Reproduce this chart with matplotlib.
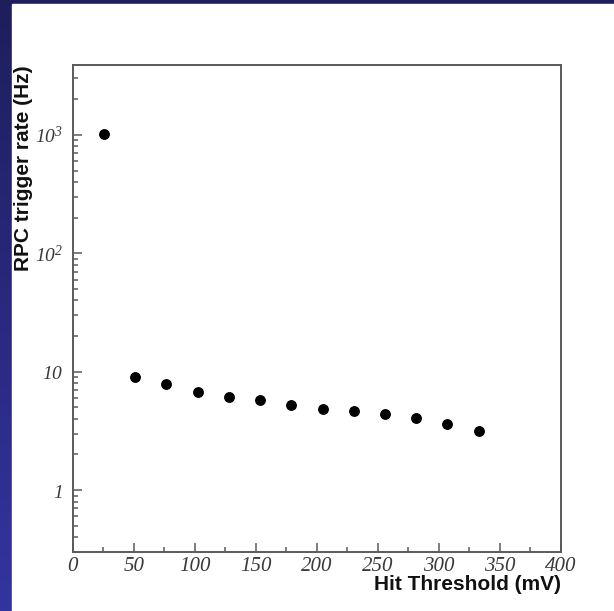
import numpy as np
import matplotlib
matplotlib.use("Agg")
import matplotlib.pyplot as plt
from matplotlib.ticker import FixedLocator, FixedFormatter, LogLocator, MultipleLocator, NullFormatter

# Data
threshold_mv = [25.6, 51.2, 76.8, 102.4, 128.0, 153.6, 179.2, 204.8, 230.4, 256.0, 281.6, 307.2, 332.8]
trigger_rate_hz = [1010, 9.0, 7.8, 6.8, 6.1, 5.75, 5.2, 4.85, 4.7, 4.4, 4.05, 3.65, 3.15]

y_ticks = [1, 10, 100, 1000]
y_tick_labels = [r'$\mathit{1}$', r'$\mathit{10}$', r'$\mathit{10^{2}}$', r'$\mathit{10^{3}}$']

plt.rcParams['mathtext.fontset'] = 'custom'
plt.rcParams['mathtext.it'] = 'Liberation Serif:italic'
plt.rcParams['mathtext.rm'] = 'Liberation Serif:italic'

W, H = 614, 611
fig = plt.figure(figsize=(W / 100, H / 100), dpi=100)

# dark blue slide background with a white panel
bg = fig.add_axes([0, 0, 1, 1], zorder=-10)
grad = np.linspace(0, 1, 256).reshape(-1, 1)
bg.imshow(grad, aspect='auto', extent=[0, 1, 0, 1], origin='upper',
          cmap=matplotlib.colors.LinearSegmentedColormap.from_list('slide', ['#1e1e5c', '#3434a0']))
bg.add_patch(plt.Rectangle((12 / W, 0), 1, 1 - 4 / H, color='white', transform=bg.transAxes))
bg.set_xlim(0, 1)
bg.set_ylim(0, 1)
bg.axis('off')

ax = fig.add_axes([72.7 / W, 1 - 552 / H, (560.7 - 72.7) / W, (552 - 65) / H])
ax.plot(threshold_mv, trigger_rate_hz, 'o', color='black', markersize=6.8)

ax.set_yscale('log')
ax.set_xlim(0, 400)
ax.set_ylim(0.3, 3900)

ax.xaxis.set_major_locator(MultipleLocator(50))
ax.xaxis.set_minor_locator(MultipleLocator(25))
ax.yaxis.set_major_locator(FixedLocator(y_ticks))
ax.yaxis.set_major_formatter(FixedFormatter(y_tick_labels))
ax.yaxis.set_minor_locator(LogLocator(base=10, subs=np.arange(2, 10)))
ax.yaxis.set_minor_formatter(NullFormatter())

spine_col = '#5a5a5a'
for s in ax.spines.values():
    s.set_color(spine_col)
    s.set_linewidth(1.4)

ax.tick_params(which='both', direction='in', top=False, right=False, color=spine_col, width=1.1)
ax.tick_params(which='major', length=6.5)
ax.tick_params(which='minor', length=3.8)
ax.tick_params(axis='x', which='major', pad=3.5, labelsize=15)
ax.tick_params(axis='y', which='major', pad=7, labelsize=14)
for lab in ax.get_xticklabels():
    lab.set_fontfamily('Liberation Serif')
    lab.set_fontstyle('italic')
    lab.set_color('#3a3a3a')
for lab in ax.get_yticklabels():
    lab.set_color('#3a3a3a')

fig.text(24 / W, 1 - 65 / H, 'RPC trigger rate (Hz)', rotation=90, ha='center', va='top',
         fontsize=15, fontweight='bold', family='Liberation Sans', color='#111111')
fig.text(560.7 / W, 1 - 584 / H, 'Hit Threshold (mV)', ha='right', va='center',
         fontsize=15, fontweight='bold', family='Liberation Sans', color='#111111')

fig.savefig('out.png', dpi=100)
